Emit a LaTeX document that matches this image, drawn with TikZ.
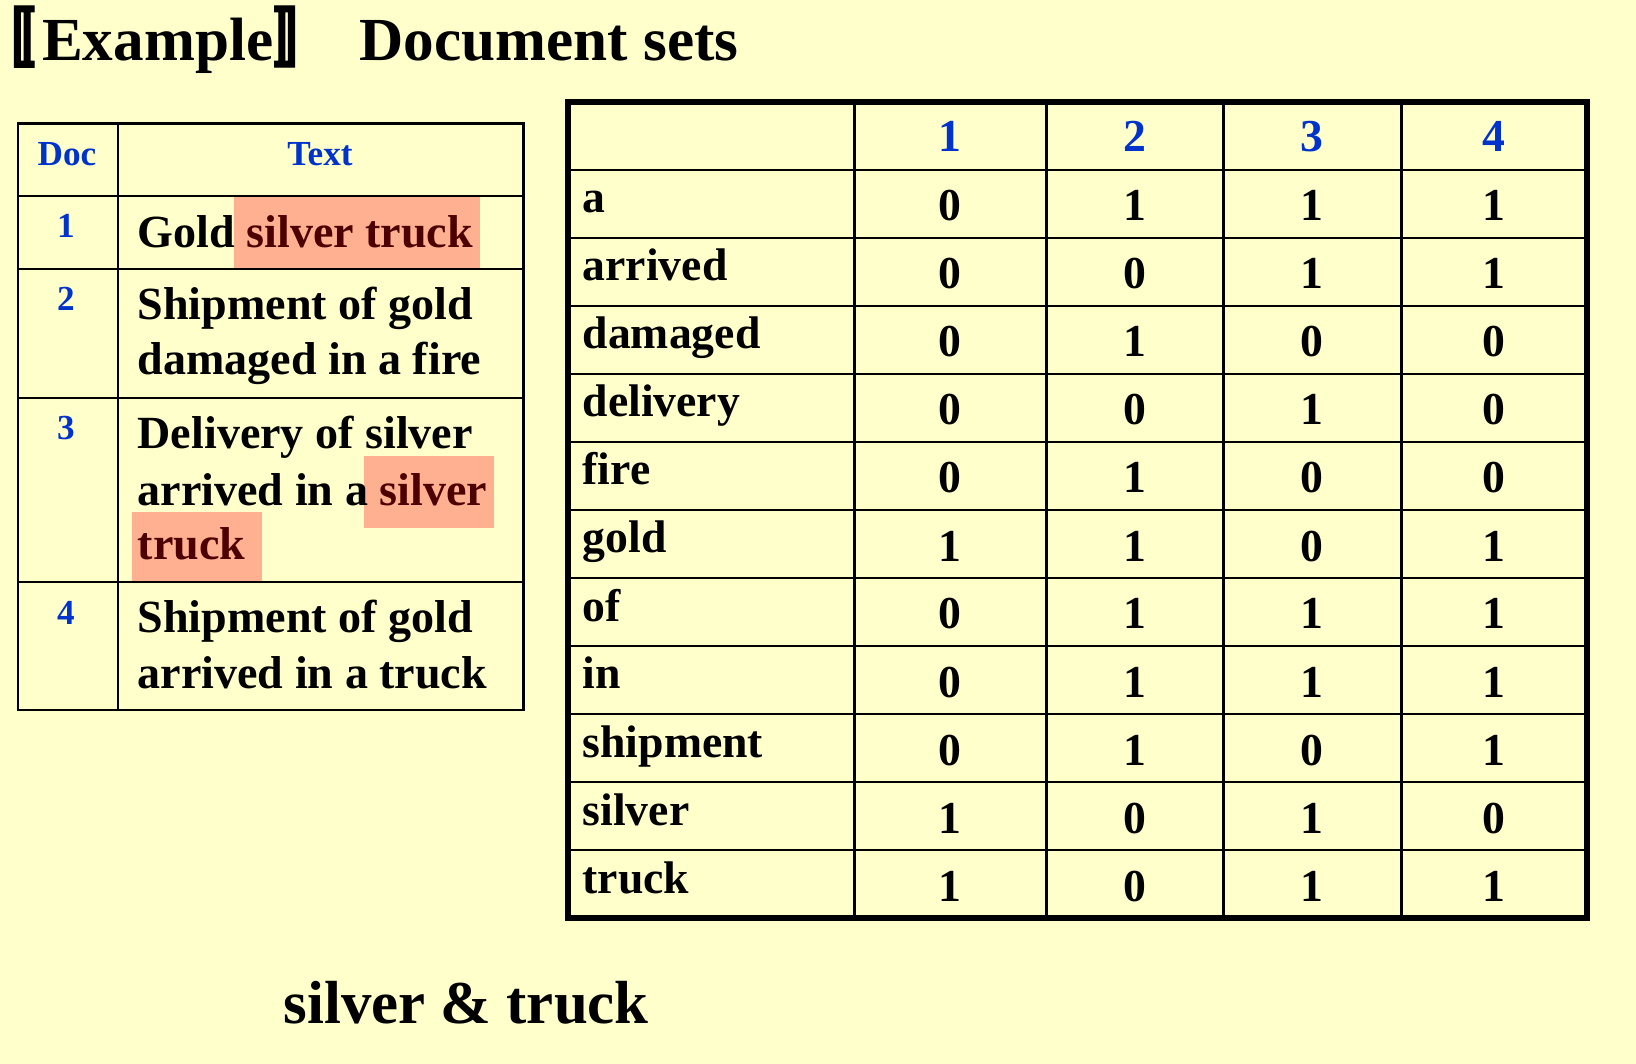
\documentclass[tikz,border=0pt]{standalone}
\usepackage{fontspec}
\setmainfont{Liberation Serif}
\newfontfamily\cjkfont[FakeBold=2]{Noto Sans CJK SC}
\definecolor{paper}{RGB}{255,255,204}
\definecolor{docblue}{RGB}{0,51,204}
\definecolor{hlfill}{RGB}{255,176,144}
\definecolor{hltext}{RGB}{77,0,0}
\tikzset{
  tabline/.style={line width=0.85pt},
  hdr/.style={inner sep=0pt, text=docblue, font=\bfseries\fontsize{10}{12}\selectfont},
  body/.style={inner sep=0pt, font=\bfseries\fontsize{13.1}{15.7}\selectfont},
  cell/.style={inner sep=0pt, font=\bfseries\fontsize{13}{15}\selectfont},
}
\begin{document}
\begin{tikzpicture}[x=0.01cm, y=-0.01cm]
  \useasboundingbox (0,0) rectangle (1636,1064);
  \fill[paper] (0,0) rectangle (1636,1064);

  % title
  \node[inner sep=0pt, anchor=base west, font=\bfseries\fontsize{17.4}{20}\selectfont] (title) at (6,61)
    {{\cjkfont\fontsize{18.3}{20}\selectfont\hspace*{-0.55em}〚\hspace{0.1em}}Example{\cjkfont\fontsize{18.3}{20}\selectfont 〛}\hspace{0.36em}Document sets};

  % left table: highlights
  \fill[hlfill] (234,195) rectangle (480,268);
  \fill[hlfill] (364,456) rectangle (494,528);
  \fill[hlfill] (132,512) rectangle (262,583);

  % left table: texts
  \node[hdr, anchor=base] (dochead) at (67,166) {Doc};
  \node[hdr, anchor=base] (texthead) at (320,166) {Text};
  \node[hdr, anchor=base] (doc1) at (66,238) {1};
  \node[hdr, anchor=base] (doc2) at (66,311) {2};
  \node[hdr, anchor=base] (doc3) at (66,440) {3};
  \node[hdr, anchor=base] (doc4) at (66,624) {4};
  \node[body, anchor=base west] (text1) at (137,248) {Gold {\color{hltext}silver truck}};
  \node[body, anchor=base west] (text2a) at (137,320) {Shipment of gold};
  \node[body, anchor=base west] (text2b) at (137,375) {damaged in a fire};
  \node[body, anchor=base west] (text3a) at (137,449) {Delivery of silver};
  \node[body, anchor=base west] (text3b) at (137,505) {arrived in a {\color{hltext}silver}};
  \node[body, anchor=base west] (text3c) at (137,560) {\color{hltext}truck};
  \node[body, anchor=base west] (text4a) at (137,633) {Shipment of gold};
  \node[body, anchor=base west] (text4b) at (137,688) {arrived in a truck};

  % left table: rules
  \draw[tabline] (18,124) rectangle (523,710);
  \draw[tabline] (118,124) -- (118,710);
  \foreach \y in {196,269,398,582}
    \draw[tabline] (18,\y) -- (523,\y);

  % right table: rules
  \foreach \x in {854,1046,1223,1401}
    \draw[tabline] (\x,102) -- (\x,918);
  \foreach \i in {1,...,11}
    \draw[tabline] (568,{102+68*\i}) -- (1587,{102+68*\i});
  \draw[line width=1.5pt] (568,102) rectangle (1587,918);

  % right table: texts
  \foreach \xc [count=\j] in {950,1134.5,1312,1494}
    \node[cell, text=docblue, anchor=base] (col\j) at (\xc,152) {\j};
  \foreach \term/\va/\vb/\vc/\vd [count=\i] in {a/0/1/1/1, arrived/0/0/1/1, damaged/0/1/0/0,
      delivery/0/0/1/0, fire/0/1/0/0, gold/1/1/0/1, of/0/1/1/1, in/0/1/1/1,
      shipment/0/1/0/1, silver/1/0/1/0, truck/1/0/1/1} {
    \pgfmathsetmacro\rtop{170+68*(\i-1)}
    \node[cell, anchor=base west] (term\i) at (582,{\rtop+43}) {\term};
    \foreach \v/\xc [count=\j] in {\va/950,\vb/1134.5,\vc/1312,\vd/1494}
      \node[cell, anchor=base] (val\i-\j) at (\xc,{\rtop+51}) {\v};
  }

  % query
  \node[inner sep=0pt, anchor=base west, font=\bfseries\fontsize{17.3}{20}\selectfont] (query) at (283,1023) {silver \& truck};
\end{tikzpicture}
\end{document}
